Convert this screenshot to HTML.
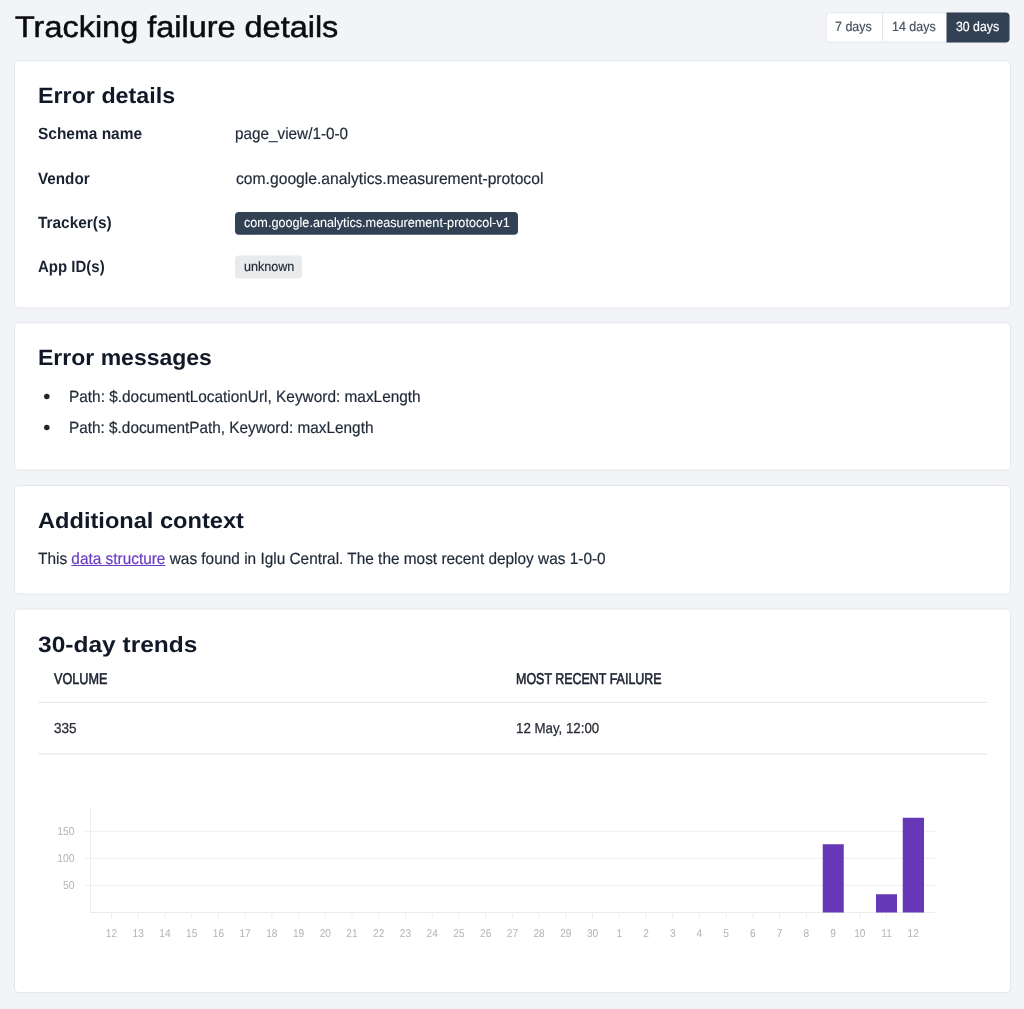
<!DOCTYPE html>
<html lang="en">
<head>
<meta charset="utf-8">
<title>Tracking failure details</title>
<style>
  html, body { margin: 0; padding: 0; }
  body {
    width: 1024px; height: 1009px; overflow: hidden; position: relative;
    background: #f2f4f8;
    font-family: "Liberation Sans", sans-serif;
    color: #111827;
    text-rendering: geometricPrecision;
  }
  #shapes { position: absolute; left: 0; top: 0; }
  .t { position: absolute; white-space: nowrap; line-height: 1; margin: 0; padding: 0; transform-origin: 0 0; }
  button.t { background: none; border: 0; font-family: inherit; text-rendering: geometricPrecision; letter-spacing: normal; cursor: pointer; }
  ul, dl { margin: 0; padding: 0; list-style: none; }
  a { color: #6a3cbf; -webkit-text-stroke-color: #6a3cbf; text-decoration: underline; text-decoration-color: #6a3cbf; text-decoration-thickness: 1px; text-underline-offset: 1px; cursor: pointer; }
  svg text { font-family: "Liberation Sans", sans-serif; fill: #b4b4b4; }
  svg .xl { font-size: 11.3px; }
  svg .yl { font-size: 11.3px; }
</style>
</head>
<body>

<!-- card surfaces, button group, badges, rules, bullets and bar chart -->
<svg id="shapes" width="1024" height="1009" viewBox="0 0 1024 1009" role="img" aria-label="30-day failure volume chart">
<rect x="14.5" y="60.70" width="996.1" height="247.20" rx="4.5" fill="#ffffff" stroke="#e3e6eb" stroke-width="1"/>
<rect x="14.5" y="322.80" width="996.1" height="147.30" rx="4.5" fill="#ffffff" stroke="#e3e6eb" stroke-width="1"/>
<rect x="14.5" y="485.50" width="996.1" height="108.50" rx="4.5" fill="#ffffff" stroke="#e3e6eb" stroke-width="1"/>
<rect x="14.5" y="609.00" width="996.1" height="383.60" rx="4.5" fill="#ffffff" stroke="#e3e6eb" stroke-width="1"/>
<rect x="826" y="12.9" width="183" height="29.2" rx="3.5" fill="#ffffff" stroke="#e3e6eb" stroke-width="1"/>
<rect x="882" y="13.4" width="1" height="28.2" fill="#e3e6eb"/>
<path d="M946.5 12.4 H1005.5 a4 4 0 0 1 4 4 V38.6 a4 4 0 0 1 -4 4 H946.5 Z" fill="#334155"/>
<rect x="235" y="211.9" width="283" height="22.9" rx="4" fill="#334155"/>
<rect x="235" y="255.4" width="67" height="23" rx="4" fill="#e9eaec"/>
<circle cx="46.8" cy="396.5" r="2.75" fill="#20242c"/>
<circle cx="46.8" cy="427.4" r="2.75" fill="#20242c"/>
<rect x="38" y="701.8" width="949" height="1" fill="#e3e5e9"/>
<rect x="38" y="753.5" width="949" height="1" fill="#e3e5e9"/>
<line x1="85.0" y1="831.3" x2="934.75" y2="831.3" stroke="#eeeeee" stroke-width="1"/>
<line x1="85.0" y1="858.3" x2="934.75" y2="858.3" stroke="#eeeeee" stroke-width="1"/>
<line x1="85.0" y1="885.3" x2="934.75" y2="885.3" stroke="#eeeeee" stroke-width="1"/>
<line x1="90.5" y1="807.2" x2="90.5" y2="913.0" stroke="#ececec" stroke-width="1"/>
<line x1="90.5" y1="912.5" x2="934.75" y2="912.5" stroke="#ececec" stroke-width="1"/>
<line x1="111.50" y1="912.5" x2="111.50" y2="918.0" stroke="#eeeeee" stroke-width="1"/>
<g transform="translate(111.50 937.3) scale(0.9 1)"><text x="0" y="0" text-anchor="middle" class="xl">12</text></g>
<line x1="138.22" y1="912.5" x2="138.22" y2="918.0" stroke="#eeeeee" stroke-width="1"/>
<g transform="translate(138.22 937.3) scale(0.9 1)"><text x="0" y="0" text-anchor="middle" class="xl">13</text></g>
<line x1="164.95" y1="912.5" x2="164.95" y2="918.0" stroke="#eeeeee" stroke-width="1"/>
<g transform="translate(164.95 937.3) scale(0.9 1)"><text x="0" y="0" text-anchor="middle" class="xl">14</text></g>
<line x1="191.68" y1="912.5" x2="191.68" y2="918.0" stroke="#eeeeee" stroke-width="1"/>
<g transform="translate(191.68 937.3) scale(0.9 1)"><text x="0" y="0" text-anchor="middle" class="xl">15</text></g>
<line x1="218.40" y1="912.5" x2="218.40" y2="918.0" stroke="#eeeeee" stroke-width="1"/>
<g transform="translate(218.40 937.3) scale(0.9 1)"><text x="0" y="0" text-anchor="middle" class="xl">16</text></g>
<line x1="245.12" y1="912.5" x2="245.12" y2="918.0" stroke="#eeeeee" stroke-width="1"/>
<g transform="translate(245.12 937.3) scale(0.9 1)"><text x="0" y="0" text-anchor="middle" class="xl">17</text></g>
<line x1="271.85" y1="912.5" x2="271.85" y2="918.0" stroke="#eeeeee" stroke-width="1"/>
<g transform="translate(271.85 937.3) scale(0.9 1)"><text x="0" y="0" text-anchor="middle" class="xl">18</text></g>
<line x1="298.58" y1="912.5" x2="298.58" y2="918.0" stroke="#eeeeee" stroke-width="1"/>
<g transform="translate(298.58 937.3) scale(0.9 1)"><text x="0" y="0" text-anchor="middle" class="xl">19</text></g>
<line x1="325.30" y1="912.5" x2="325.30" y2="918.0" stroke="#eeeeee" stroke-width="1"/>
<g transform="translate(325.30 937.3) scale(0.9 1)"><text x="0" y="0" text-anchor="middle" class="xl">20</text></g>
<line x1="352.02" y1="912.5" x2="352.02" y2="918.0" stroke="#eeeeee" stroke-width="1"/>
<g transform="translate(352.02 937.3) scale(0.9 1)"><text x="0" y="0" text-anchor="middle" class="xl">21</text></g>
<line x1="378.75" y1="912.5" x2="378.75" y2="918.0" stroke="#eeeeee" stroke-width="1"/>
<g transform="translate(378.75 937.3) scale(0.9 1)"><text x="0" y="0" text-anchor="middle" class="xl">22</text></g>
<line x1="405.48" y1="912.5" x2="405.48" y2="918.0" stroke="#eeeeee" stroke-width="1"/>
<g transform="translate(405.48 937.3) scale(0.9 1)"><text x="0" y="0" text-anchor="middle" class="xl">23</text></g>
<line x1="432.20" y1="912.5" x2="432.20" y2="918.0" stroke="#eeeeee" stroke-width="1"/>
<g transform="translate(432.20 937.3) scale(0.9 1)"><text x="0" y="0" text-anchor="middle" class="xl">24</text></g>
<line x1="458.93" y1="912.5" x2="458.93" y2="918.0" stroke="#eeeeee" stroke-width="1"/>
<g transform="translate(458.93 937.3) scale(0.9 1)"><text x="0" y="0" text-anchor="middle" class="xl">25</text></g>
<line x1="485.65" y1="912.5" x2="485.65" y2="918.0" stroke="#eeeeee" stroke-width="1"/>
<g transform="translate(485.65 937.3) scale(0.9 1)"><text x="0" y="0" text-anchor="middle" class="xl">26</text></g>
<line x1="512.38" y1="912.5" x2="512.38" y2="918.0" stroke="#eeeeee" stroke-width="1"/>
<g transform="translate(512.38 937.3) scale(0.9 1)"><text x="0" y="0" text-anchor="middle" class="xl">27</text></g>
<line x1="539.10" y1="912.5" x2="539.10" y2="918.0" stroke="#eeeeee" stroke-width="1"/>
<g transform="translate(539.10 937.3) scale(0.9 1)"><text x="0" y="0" text-anchor="middle" class="xl">28</text></g>
<line x1="565.83" y1="912.5" x2="565.83" y2="918.0" stroke="#eeeeee" stroke-width="1"/>
<g transform="translate(565.83 937.3) scale(0.9 1)"><text x="0" y="0" text-anchor="middle" class="xl">29</text></g>
<line x1="592.55" y1="912.5" x2="592.55" y2="918.0" stroke="#eeeeee" stroke-width="1"/>
<g transform="translate(592.55 937.3) scale(0.9 1)"><text x="0" y="0" text-anchor="middle" class="xl">30</text></g>
<line x1="619.28" y1="912.5" x2="619.28" y2="918.0" stroke="#eeeeee" stroke-width="1"/>
<g transform="translate(619.28 937.3) scale(0.9 1)"><text x="0" y="0" text-anchor="middle" class="xl">1</text></g>
<line x1="646.00" y1="912.5" x2="646.00" y2="918.0" stroke="#eeeeee" stroke-width="1"/>
<g transform="translate(646.00 937.3) scale(0.9 1)"><text x="0" y="0" text-anchor="middle" class="xl">2</text></g>
<line x1="672.73" y1="912.5" x2="672.73" y2="918.0" stroke="#eeeeee" stroke-width="1"/>
<g transform="translate(672.73 937.3) scale(0.9 1)"><text x="0" y="0" text-anchor="middle" class="xl">3</text></g>
<line x1="699.45" y1="912.5" x2="699.45" y2="918.0" stroke="#eeeeee" stroke-width="1"/>
<g transform="translate(699.45 937.3) scale(0.9 1)"><text x="0" y="0" text-anchor="middle" class="xl">4</text></g>
<line x1="726.18" y1="912.5" x2="726.18" y2="918.0" stroke="#eeeeee" stroke-width="1"/>
<g transform="translate(726.18 937.3) scale(0.9 1)"><text x="0" y="0" text-anchor="middle" class="xl">5</text></g>
<line x1="752.90" y1="912.5" x2="752.90" y2="918.0" stroke="#eeeeee" stroke-width="1"/>
<g transform="translate(752.90 937.3) scale(0.9 1)"><text x="0" y="0" text-anchor="middle" class="xl">6</text></g>
<line x1="779.62" y1="912.5" x2="779.62" y2="918.0" stroke="#eeeeee" stroke-width="1"/>
<g transform="translate(779.62 937.3) scale(0.9 1)"><text x="0" y="0" text-anchor="middle" class="xl">7</text></g>
<line x1="806.35" y1="912.5" x2="806.35" y2="918.0" stroke="#eeeeee" stroke-width="1"/>
<g transform="translate(806.35 937.3) scale(0.9 1)"><text x="0" y="0" text-anchor="middle" class="xl">8</text></g>
<line x1="833.08" y1="912.5" x2="833.08" y2="918.0" stroke="#eeeeee" stroke-width="1"/>
<g transform="translate(833.08 937.3) scale(0.9 1)"><text x="0" y="0" text-anchor="middle" class="xl">9</text></g>
<line x1="859.80" y1="912.5" x2="859.80" y2="918.0" stroke="#eeeeee" stroke-width="1"/>
<g transform="translate(859.80 937.3) scale(0.9 1)"><text x="0" y="0" text-anchor="middle" class="xl">10</text></g>
<line x1="886.53" y1="912.5" x2="886.53" y2="918.0" stroke="#eeeeee" stroke-width="1"/>
<g transform="translate(886.53 937.3) scale(0.9 1)"><text x="0" y="0" text-anchor="middle" class="xl">11</text></g>
<line x1="913.25" y1="912.5" x2="913.25" y2="918.0" stroke="#eeeeee" stroke-width="1"/>
<g transform="translate(913.25 937.3) scale(0.9 1)"><text x="0" y="0" text-anchor="middle" class="xl">12</text></g>
<g transform="translate(74.5 835.3) scale(0.92 1)"><text x="0" y="0" text-anchor="end" class="yl">150</text></g>
<g transform="translate(74.5 862.3) scale(0.92 1)"><text x="0" y="0" text-anchor="end" class="yl">100</text></g>
<g transform="translate(74.5 889.3) scale(0.92 1)"><text x="0" y="0" text-anchor="end" class="yl">50</text></g>
<rect x="822.75" y="844.25" width="21" height="68.25" fill="#6638b8"/>
<rect x="876.0" y="894.25" width="21" height="18.25" fill="#6638b8"/>
<rect x="902.75" y="817.75" width="21.25" height="94.75" fill="#6638b8"/>
</svg>

<main>
<header>
<h1 class="t" id="title" style="left:15.40px;top:13.00px;font-size:29.9px;font-weight:400;color:#0b0c10;transform:scaleX(1.0852);-webkit-text-stroke:0.5px #0b0c10;">Tracking failure details</h1>
<nav aria-label="Date range">
<button class="t" id="bt1" style="left:835.30px;top:20.00px;font-size:13.3px;font-weight:400;color:#475062;transform:scaleX(0.9360);-webkit-text-stroke:0.2px #475062;">7 days</button>
<button class="t" id="bt2" style="left:891.96px;top:20.00px;font-size:13.3px;font-weight:400;color:#475062;transform:scaleX(0.9363);-webkit-text-stroke:0.2px #475062;">14 days</button>
<button class="t" id="bt3" style="left:956.40px;top:20.00px;font-size:13.3px;font-weight:400;color:#ffffff;transform:scaleX(0.9249);-webkit-text-stroke:0.2px #ffffff;">30 days</button>
</nav>
</header>

<section aria-labelledby="h2a">
<h2 class="t" id="h2a" style="left:37.70px;top:85.00px;font-size:22.2px;font-weight:700;color:#111827;transform:scaleX(1.0493);">Error details</h2>
<dl>
<dt class="t" id="l1" style="left:38.10px;top:126.00px;font-size:16.25px;font-weight:700;color:#1a2130;transform:scaleX(0.9519);">Schema name</dt>
<dd class="t" id="v1" style="left:234.76px;top:126.00px;font-size:16.25px;font-weight:400;color:#1f2937;transform:scaleX(0.9412);-webkit-text-stroke:0.2px #1f2937;">page_view/1-0-0</dd>
<dt class="t" id="l2" style="left:38.10px;top:171.00px;font-size:16.25px;font-weight:700;color:#1a2130;transform:scaleX(0.9371);">Vendor</dt>
<dd class="t" id="v2" style="left:235.70px;top:171.00px;font-size:16.25px;font-weight:400;color:#1f2937;transform:scaleX(0.9641);-webkit-text-stroke:0.2px #1f2937;">com.google.analytics.measurement-protocol</dd>
<dt class="t" id="l3" style="left:38.25px;top:215.00px;font-size:16.25px;font-weight:700;color:#1a2130;transform:scaleX(0.9479);">Tracker(s)</dt>
<dd class="t" id="b1" style="left:243.50px;top:216.00px;font-size:13.3px;font-weight:400;color:#ffffff;transform:scaleX(0.9510);-webkit-text-stroke:0.08px #ffffff;">com.google.analytics.measurement-protocol-v1</dd>
<dt class="t" id="l4" style="left:38.25px;top:259.00px;font-size:16.25px;font-weight:700;color:#1a2130;transform:scaleX(0.9227);">App ID(s)</dt>
<dd class="t" id="b2" style="left:243.50px;top:260.00px;font-size:13.3px;font-weight:400;color:#1f2937;transform:scaleX(0.9464);-webkit-text-stroke:0.2px #1f2937;">unknown</dd>
</dl>
</section>

<section aria-labelledby="h2b">
<h2 class="t" id="h2b" style="left:37.71px;top:347.00px;font-size:22.2px;font-weight:700;color:#111827;transform:scaleX(1.0367);">Error messages</h2>
<ul>
<li class="t" id="li1" style="left:68.55px;top:389.00px;font-size:16.25px;font-weight:400;color:#1f2937;transform:scaleX(0.9473);-webkit-text-stroke:0.2px #1f2937;">Path: $.documentLocationUrl, Keyword: maxLength</li>
<li class="t" id="li2" style="left:68.56px;top:420.00px;font-size:16.25px;font-weight:400;color:#1f2937;transform:scaleX(0.9440);-webkit-text-stroke:0.2px #1f2937;">Path: $.documentPath, Keyword: maxLength</li>
</ul>
</section>

<section aria-labelledby="h2c">
<h2 class="t" id="h2c" style="left:37.80px;top:510.00px;font-size:22.2px;font-weight:700;color:#111827;transform:scaleX(1.0642);">Additional context</h2>
<p class="t" id="p" style="left:38.10px;top:551.00px;font-size:16.25px;font-weight:400;color:#1f2937;transform:scaleX(0.9469);-webkit-text-stroke:0.2px #1f2937;">This <a>data structure</a> was found in Iglu Central. The the most recent deploy was 1-0-0</p>
</section>

<section aria-labelledby="h2d">
<h2 class="t" id="h2d" style="left:38.00px;top:634.00px;font-size:22.2px;font-weight:700;color:#111827;transform:scaleX(1.1047);">30-day trends</h2>
<div role="table">
<div role="row">
<div role="columnheader" class="t" id="th1" style="left:53.75px;top:672.00px;font-size:15.6px;font-weight:400;color:#1b2230;transform:scaleX(0.8097);-webkit-text-stroke:0.6px #1b2230;">VOLUME</div>
<div role="columnheader" class="t" id="th2" style="left:515.95px;top:672.00px;font-size:15.6px;font-weight:400;color:#1b2230;transform:scaleX(0.7990);-webkit-text-stroke:0.6px #1b2230;">MOST RECENT FAILURE</div>
</div>
<div role="row">
<div role="cell" class="t" id="td1" style="left:53.50px;top:722.00px;font-size:14.5px;font-weight:400;color:#2a2f3a;transform:scaleX(0.9325);-webkit-text-stroke:0.3px #2a2f3a;">335</div>
<div role="cell" class="t" id="td2" style="left:516.08px;top:722.00px;font-size:14.5px;font-weight:400;color:#2a2f3a;transform:scaleX(0.9164);-webkit-text-stroke:0.3px #2a2f3a;">12 May, 12:00</div>
</div>
</div>
</section>
</main>

</body>
</html>
